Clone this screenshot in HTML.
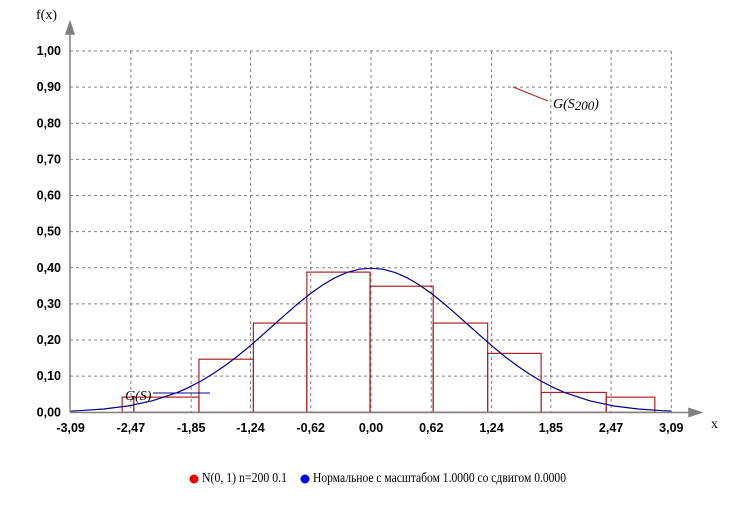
<!DOCTYPE html>
<html><head><meta charset="utf-8"><style>
body{margin:0;background:#fff;width:741px;height:522px;overflow:hidden}
svg{display:block}
.t{font-family:"Liberation Sans",sans-serif;font-weight:bold;font-size:12.5px;fill:#000}
.s{font-family:"Liberation Serif",serif;font-size:14px;fill:#000}
</style></head><body>
<svg id="c" width="741" height="522">
<text class="s" x="36" y="19" font-size="15">f(x)</text>
<text class="s" x="711" y="428" font-size="15">x</text>
<g id="grid"></g><g id="bars"></g><g id="curve"></g><g id="axes"></g>
<text class="s" x="125" y="400" font-style="italic" font-size="16">G(S)</text>
<line x1="153" y1="393" x2="210" y2="393" stroke="#00008b"/>
<line x1="513" y1="87" x2="548" y2="101" stroke="#b22222"/>
<text class="s" x="553" y="108" font-style="italic" font-size="16">G(S<tspan font-size="13" dy="2">200</tspan><tspan dy="-2">)</tspan></text>
<circle cx="194" cy="479" r="4.5" fill="#e00"/>
<text class="s" x="202" y="482" font-size="10" textLength="85" lengthAdjust="spacingAndGlyphs">N(0, 1) n=200 0.1</text>
<circle cx="305" cy="479" r="4.5" fill="#00e"/>
<text class="s" x="313" y="482" font-size="10" textLength="253" lengthAdjust="spacingAndGlyphs">Нормальное с масштабом 1.0000 со сдвигом 0.0000</text>
</svg>
<script>
const xTicks=[-3.09,-2.47,-1.85,-1.24,-0.62,0.00,0.62,1.24,1.85,2.47,3.09];
const yTicks=[0,0.1,0.2,0.3,0.4,0.5,0.6,0.7,0.8,0.9,1.0];
const binEdges=[-2.56,-2.44,-1.77,-1.21,-0.66,-0.01,0.64,1.20,1.75,2.42,2.92];
const binHeights=[0.042,0.042,0.147,0.247,0.388,0.349,0.247,0.163,0.055,0.042];
const curveX=[-3.09,-3,-2.75,-2.5,-2.25,-2,-1.875,-1.75,-1.625,-1.5,-1.375,-1.25,-1.125,-1,-0.875,-0.75,-0.625,-0.5,-0.375,-0.25,-0.125,0,0.125,0.25,0.375,0.5,0.625,0.75,0.875,1,1.125,1.25,1.375,1.5,1.625,1.75,1.875,2,2.25,2.5,2.75,3,3.09];
const curveY=[0.0034,0.0044,0.0091,0.0175,0.0317,0.054,0.0688,0.0863,0.1066,0.1295,0.1548,0.1826,0.2121,0.242,0.2719,0.3011,0.3282,0.3521,0.3718,0.3867,0.3958,0.3989,0.3958,0.3867,0.3718,0.3521,0.3282,0.3011,0.2719,0.242,0.2121,0.1826,0.1548,0.1295,0.1066,0.0863,0.0688,0.054,0.0317,0.0175,0.0091,0.0044,0.0034];
const X=v=>371+v*97.2, Y=v=>412.3-v*361.3;
const NS='http://www.w3.org/2000/svg';
function mk(t,p,a){const e=document.createElementNS(NS,t);for(const k in a)e.setAttribute(k,a[k]);p.appendChild(e);return e;}
const g=document.getElementById('grid'),b=document.getElementById('bars'),cv=document.getElementById('curve'),ax=document.getElementById('axes');
yTicks.forEach(v=>{if(v>0){const l=mk('line',g,{x1:70,x2:671,y1:Y(v),y2:Y(v),stroke:'#808080','stroke-dasharray':'3,3'});

}
const t=mk('text',ax,{class:'t',x:61,y:Y(v)+4,'text-anchor':'end'});t.textContent=v.toFixed(2).replace('.',',');

});
xTicks.forEach(v=>{if(v>-3){const l=mk('line',g,{x1:X(v),x2:X(v),y1:Y(1),y2:412,stroke:'#808080','stroke-dasharray':'3,3'});

}
const t=mk('text',ax,{class:'t',x:X(v),y:432,'text-anchor':'middle'});t.textContent=v.toFixed(2).replace('.',',');

});
binHeights.forEach((h,i)=>{const r=mk('rect',b,{x:X(binEdges[i]),y:Y(h),width:X(binEdges[i+1])-X(binEdges[i]),height:412.3-Y(h),fill:'none',stroke:'#b22222','stroke-width':1.2});

});
const pl=mk('polyline',cv,{points:curveX.map((x,i)=>X(x)+','+Y(curveY[i])).join(' '),fill:'none',stroke:'#00008b','stroke-width':1.2});


const ya=mk('path',ax,{d:'M70,412V26 M66,34 L70,22 L74,34Z',stroke:'#808080',fill:'#808080','stroke-width':1.5});


const xa=mk('path',ax,{d:'M70,412.5H697 M689,408.5 L701,412.5 L689,416.5Z',stroke:'#808080',fill:'#808080','stroke-width':1.5});


</script>
</body></html>
